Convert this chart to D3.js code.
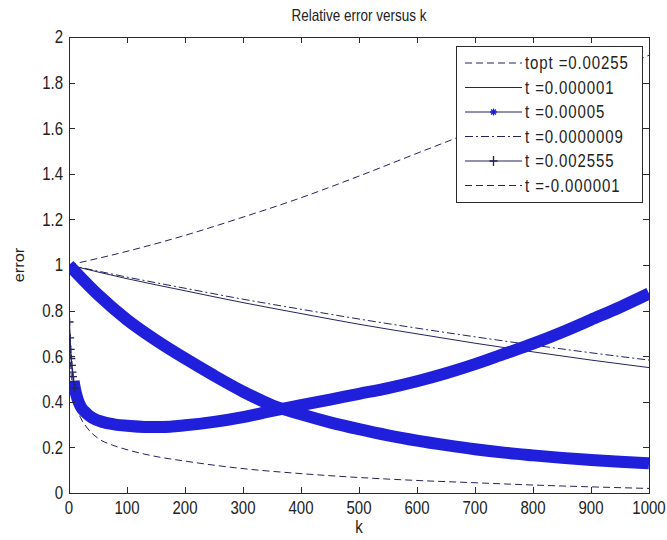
<!DOCTYPE html>
<html>
<head>
<meta charset="utf-8">
<script src="https://cdn.jsdelivr.net/npm/d3@7/dist/d3.min.js"></script>
<style>
  body { margin: 0; background: #fff; }
  text { font-family: "Liberation Sans", Arial, Helvetica, sans-serif; fill: #222; }
</style>
</head>
<body>
<svg id="chart" width="667" height="540"></svg>
<script>
// ---- data ----
const kTicks = [0, 100, 200, 300, 400, 500, 600, 700, 800, 900, 1000];
const kTickLabels = ["0", "100", "200", "300", "400", "500", "600", "700", "800", "900", "1000"];
const errTicks = [0, 0.2, 0.4, 0.6, 0.8, 1, 1.2, 1.4, 1.6, 1.8, 2];
const errTickLabels = ["0", "0.2", "0.4", "0.6", "0.8", "1", "1.2", "1.4", "1.6", "1.8", "2"];
const seriesNames = ["topt =0.00255", "t =0.000001", "t =0.00005", "t =0.0000009", "t =0.002555", "t =-0.000001"];

// topt = 0.00255 (dashed, rising)
const kTopt   = [0, 100, 200, 300, 400, 500, 600, 700, 800, 900, 1000];
const errTopt = [1, 1.06, 1.13, 1.21, 1.295, 1.39, 1.49, 1.59, 1.70, 1.81, 1.92];

// t = 0.000001 (solid)
const kT1   = [0, 100, 200, 300, 400, 500, 600, 700, 800, 900, 1000];
const errT1 = [1, 0.94, 0.887, 0.835, 0.787, 0.74, 0.698, 0.657, 0.619, 0.583, 0.55];

// t = 0.00005 (asterisk markers)
const kT2   = [0, 50, 100, 150, 200, 250, 300, 350, 400, 450, 500, 550, 600, 650, 700, 750, 800, 850, 900, 950, 1000];
const errT2 = [1, 0.87, 0.76, 0.67, 0.59, 0.515, 0.445, 0.385, 0.345, 0.31, 0.28, 0.253, 0.23, 0.21, 0.192, 0.177, 0.165, 0.154, 0.145, 0.137, 0.13];

// t = 0.0000009 (dash-dot)
const kT3   = [0, 100, 200, 300, 400, 500, 600, 700, 800, 900, 1000];
const errT3 = [1, 0.947, 0.898, 0.85, 0.806, 0.763, 0.723, 0.685, 0.649, 0.615, 0.583];

// t = 0.002555 (plus markers)
const kT4   = [1, 2, 3, 4, 5, 6, 7, 8, 10, 15, 20, 30, 40, 60, 80, 100, 130, 160, 200, 250, 300, 350, 400, 450, 500, 550, 600, 650, 700, 750, 800, 850, 900, 950, 1000];
const errT4 = [0.75, 0.68, 0.63, 0.59, 0.56, 0.53, 0.51, 0.49, 0.46, 0.41, 0.38, 0.35, 0.33, 0.31, 0.30, 0.295, 0.29, 0.29, 0.297, 0.312, 0.333, 0.36, 0.385, 0.41, 0.435, 0.46, 0.49, 0.525, 0.565, 0.61, 0.655, 0.705, 0.76, 0.815, 0.875];

// t = -0.000001 (dashed, falling)
const kT5   = [1, 3, 5, 10, 20, 30, 50, 75, 100, 150, 200, 250, 300, 400, 500, 600, 700, 800, 900, 1000];
const errT5 = [0.72, 0.55, 0.48, 0.40, 0.33, 0.29, 0.24, 0.21, 0.19, 0.16, 0.14, 0.122, 0.107, 0.085, 0.068, 0.055, 0.045, 0.035, 0.027, 0.02];

// ---- layout ----
const svg = d3.select("#chart");
const W = 667, H = 540;
const plot = { left: 69, right: 649, top: 37, bottom: 493 };
const x = d3.scaleLinear().domain([0, 1000]).range([plot.left, plot.right]);
const y = d3.scaleLinear().domain([0, 2]).range([plot.bottom, plot.top]);

const thin = "#23235e";
const blue = "#1f1fdc";
const axisColor = "#2a2a2a";
const SY = 1.17; // text is drawn slightly taller than wide

function label(px, py, str, anchor, size, extra) {
  const t = svg.append("text")
    .attr("transform", `translate(${px},${py}) scale(1,${SY})`)
    .attr("text-anchor", anchor)
    .attr("dominant-baseline", "central")
    .style("font-size", size + "px")
    .text(str);
  if (extra) extra(t);
  return t;
}

svg.append("rect").attr("width", W).attr("height", H).attr("fill", "#fff");

// clip for plot area
svg.append("clipPath").attr("id", "clip").append("rect")
  .attr("x", plot.left).attr("y", plot.top)
  .attr("width", plot.right - plot.left).attr("height", plot.bottom - plot.top);

const g = svg.append("g").attr("clip-path", "url(#clip)");

const pts = (ks, vs) => ks.map((k, i) => [k, vs[i]]);
const line = d3.line().x(d => x(d[0])).y(d => y(d[1])).curve(d3.curveMonotoneX);

// topt dashed
g.append("path").datum(pts(kTopt, errTopt)).attr("d", line)
  .attr("fill", "none").attr("stroke", thin).attr("stroke-width", 1)
  .attr("stroke-dasharray", "7,4");
// t=0.000001 solid
g.append("path").datum(pts(kT1, errT1)).attr("d", line)
  .attr("fill", "none").attr("stroke", thin).attr("stroke-width", 1);
// t=0.0000009 dash-dot
g.append("path").datum(pts(kT3, errT3)).attr("d", line)
  .attr("fill", "none").attr("stroke", thin).attr("stroke-width", 1)
  .attr("stroke-dasharray", "8,3,2,3");
// t=-0.000001 dashed
g.append("path").datum(pts(kT5, errT5)).attr("d", line)
  .attr("fill", "none").attr("stroke", thin).attr("stroke-width", 1)
  .attr("stroke-dasharray", "7,4");

// t=0.002555: thin connector, dense plus markers band, and the first separate markers
const t4 = pts(kT4, errT4);
g.append("path").datum(t4).attr("d", line)
  .attr("fill", "none").attr("stroke", thin).attr("stroke-width", 1);
g.append("path").datum(t4.filter(d => d[0] >= 8)).attr("d", line)
  .attr("fill", "none").attr("stroke", blue).attr("stroke-width", 12);
const plusSize = 4;
g.selectAll(".plus").data(t4.filter(d => d[0] <= 10)).join("path")
  .attr("class", "plus")
  .attr("d", d => {
    const cx = x(d[0]), cy = y(d[1]);
    return `M${cx - plusSize},${cy}H${cx + plusSize}M${cx},${cy - plusSize}V${cy + plusSize}`;
  })
  .attr("stroke", thin).attr("stroke-width", 1.3);

// t=0.00005: dense asterisk band
g.append("path").datum(pts(kT2, errT2)).attr("d", line)
  .attr("fill", "none").attr("stroke", blue).attr("stroke-width", 12);

// ---- axes box and ticks (inward) ----
const box = svg.append("g").attr("stroke", axisColor).attr("stroke-width", 1).attr("fill", "none");
box.append("rect").attr("x", plot.left + 0.5).attr("y", plot.top + 0.5)
  .attr("width", plot.right - plot.left).attr("height", plot.bottom - plot.top);
const tl = 6;
kTicks.forEach(k => {
  const px = Math.round(x(k)) + 0.5;
  box.append("line").attr("x1", px).attr("x2", px).attr("y1", plot.bottom).attr("y2", plot.bottom - tl);
  box.append("line").attr("x1", px).attr("x2", px).attr("y1", plot.top).attr("y2", plot.top + tl);
});
errTicks.forEach(v => {
  const py = Math.round(y(v)) + 0.5;
  box.append("line").attr("x1", plot.left).attr("x2", plot.left + tl).attr("y1", py).attr("y2", py);
  box.append("line").attr("x1", plot.right).attr("x2", plot.right - tl).attr("y1", py).attr("y2", py);
});

kTicks.forEach((k, i) => label(x(k), 508, kTickLabels[i], "middle", 15));
errTicks.forEach((v, i) => label(63, y(v), errTickLabels[i], "end", 15));

// title and axis labels
label((plot.left + plot.right) / 2, 16, "Relative error versus k", "middle", 13.5);
label((plot.left + plot.right) / 2, 527, "k", "middle", 15);
svg.append("text")
  .attr("transform", `translate(19,${y(1)}) rotate(-90) scale(${SY},1)`)
  .attr("text-anchor", "middle").attr("dominant-baseline", "central")
  .style("font-size", "14px").text("error");

// ---- legend ----
const lg = { left: 456, right: 642, top: 46, bottom: 202 };
svg.append("rect").attr("x", lg.left + 0.5).attr("y", lg.top + 0.5)
  .attr("width", lg.right - lg.left).attr("height", lg.bottom - lg.top)
  .attr("fill", "#fff").attr("stroke", axisColor).attr("stroke-width", 1);
const rowY = i => 63 + i * 24.5;
const styles = [
  { dash: "7,4" }, { dash: null }, { dash: null, marker: "star" },
  { dash: "8,3,2,3" }, { dash: null, marker: "plus" }, { dash: "7,4" }
];
seriesNames.forEach((name, i) => {
  const ry = rowY(i);
  svg.append("line").attr("x1", 465).attr("x2", 522).attr("y1", ry).attr("y2", ry)
    .attr("stroke", thin).attr("stroke-width", 1)
    .attr("stroke-dasharray", styles[i].dash);
  const mx = 493.5;
  if (styles[i].marker === "plus") {
    svg.append("path").attr("d", `M${mx - 4},${ry}H${mx + 4}M${mx},${ry - 5}V${ry + 5}`)
      .attr("stroke", thin).attr("stroke-width", 1.3);
  }
  if (styles[i].marker === "star") {
    const s = 3.5;
    svg.append("path").attr("d",
      `M${mx - s},${ry}H${mx + s}M${mx},${ry - s}V${ry + s}M${mx - s * 0.7},${ry - s * 0.7}L${mx + s * 0.7},${ry + s * 0.7}M${mx - s * 0.7},${ry + s * 0.7}L${mx + s * 0.7},${ry - s * 0.7}`)
      .attr("stroke", blue).attr("stroke-width", 1.3);
  }
  label(525, ry, name, "start", 15, t => t.style("letter-spacing", "0.9px"));
});
</script>
</body>
</html>
